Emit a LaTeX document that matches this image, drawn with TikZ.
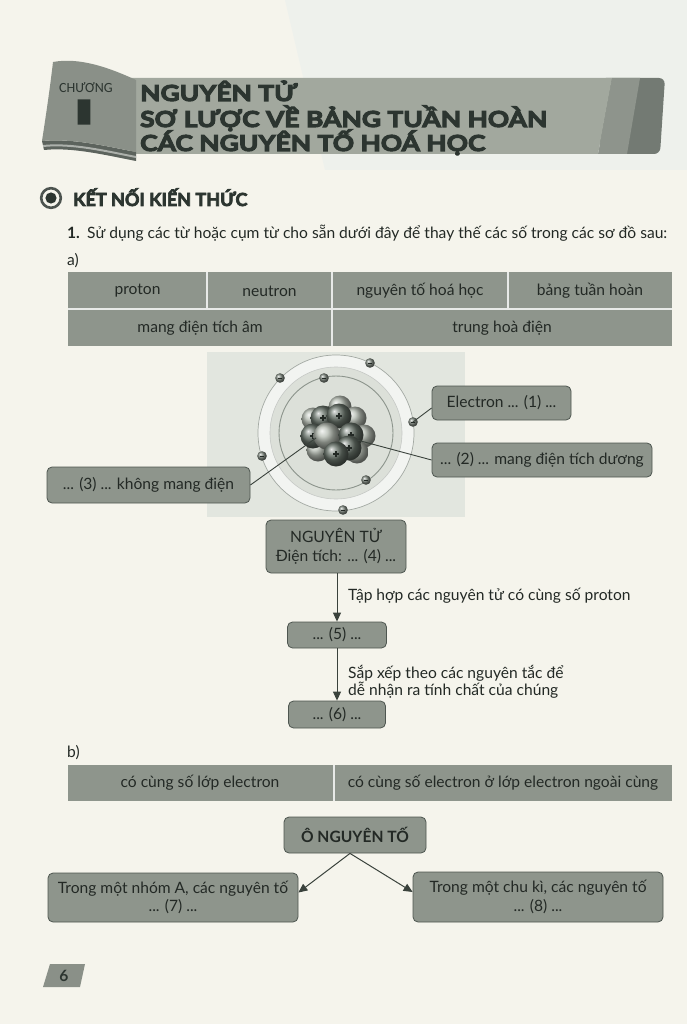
\documentclass[tikz,border=0pt]{standalone}
\usepackage{fontspec}
\usepackage{graphicx}
\setmainfont{Lato}
\newfontfamily\heavyfont{Lato}[FakeBold=5, FakeStretch=1.2]
\newfontfamily\heavyfontn{Lato}[FakeBold=4]
\newfontfamily\condfont{Carlito}
\usetikzlibrary{arrows.meta}
\definecolor{pagebg}{HTML}{F5F4EC}
\definecolor{tint}{HTML}{EEF1EC}
\definecolor{cellgray}{HTML}{8E958C}
\definecolor{boxline}{HTML}{4E5650}
\definecolor{txt}{HTML}{232925}
\definecolor{bannerlight}{HTML}{A2A89E}
\definecolor{bannermid}{HTML}{8E948C}
\definecolor{bannerdark}{HTML}{737A73}
\definecolor{tabgray}{HTML}{8A9088}
\definecolor{tabdark}{HTML}{5C635D}
\definecolor{titletxt}{HTML}{2C3530}
\definecolor{atombg}{HTML}{E2E6DF}
\definecolor{ringin}{HTML}{DCE0D9}
\definecolor{ringline}{HTML}{8C948C}
\definecolor{linecol}{HTML}{3A423C}
\definecolor{elgray}{HTML}{7E877E}
\definecolor{protgray}{HTML}{657067}
\definecolor{neutgray}{HTML}{B3BAB0}
\newcommand\bodyfs{\fontsize{15.6}{18.5}\selectfont}
\begin{document}
\begin{tikzpicture}[x=1pt,y=-1pt,
  every node/.style={text=txt},
  cbox/.style={draw=boxline, line width=0.8pt, fill=cellgray, rounded corners=5pt,
    inner sep=0pt, align=center, font=\bodyfs},
  celltext/.style={font=\bodyfs, inner sep=0pt},
  bodytext/.style={font=\bodyfs, inner sep=0pt, anchor=base west},
  flowarrow/.style={draw=linecol, line width=1pt, -{Triangle[length=9pt,width=8pt]}},
  callline/.style={draw=linecol, line width=0.9pt},
  titleline/.style={font=\heavyfont\bfseries\fontsize{22}{22}\selectfont, text=titletxt, inner sep=0pt, anchor=base west},
  elecball/.pic={\shade[ball color=elgray] (0,0) circle (4.8pt);
    \draw[line width=0.9pt, txt] (-2.2pt,0) -- (2.2pt,0);},
  protball/.pic={\shade[ball color=protgray] (0,0) circle (12.5pt);
    \draw[line width=1.1pt, txt] (-2.6pt,0) -- (2.6pt,0) (0,-2.6pt) -- (0,2.6pt);},
  neutball/.pic={\shade[ball color=neutgray] (0,0) circle (11.5pt);}
]
\useasboundingbox (0,0) rectangle (687,1024);
\fill[pagebg] (0,0) rectangle (687,1024);
\fill[tint] (285,0) -- (687,0) -- (687,170) -- (325,170) -- cycle;

% ---------- banner ----------
\fill[bannerdark, rounded corners=6pt] (600,78) -- (665,78) -- (660,154) -- (600,154) -- cycle;
\fill[bannermid] (612,78) -- (640,78) -- (627,154) -- (598,154) -- cycle;
\fill[bannerlight] (130,78) -- (612,78) -- (598,154) -- (130,154) -- cycle;
% page curl tab
\fill[tabdark] (42,141) .. controls (72,138) and (105,146) .. (136,152) -- (136,161)
   .. controls (105,155) and (72,147) .. (44,150) -- cycle;
\fill[tabgray!70!white] (43,145) .. controls (72,142) and (105,150) .. (136,156) -- (136,158)
   .. controls (105,152) and (72,144) .. (43,147) -- cycle;
\fill[tabgray] (53,62) .. controls (80,57) and (110,68) .. (136,80) -- (136,152)
   .. controls (105,146) and (72,138) .. (42,141) .. controls (46,115) and (50,88) .. (53,62) -- cycle;
\node[font=\condfont\fontsize{14}{14}\selectfont, text=titletxt, inner sep=0pt, anchor=base] (chuong) at (86,93) {CHƯƠNG};
\node[font=\heavyfontn\bfseries\fontsize{33}{33}\selectfont, text=titletxt, inner sep=0pt, anchor=base] (chI) at (84,124) {\scalebox{2.2}[1]{I}};
\node[titleline] (tl1) at (140,101) {NGUYÊN TỬ};
\node[titleline] (tl2) at (140,127) {SƠ LƯỢC VỀ BẢNG TUẦN HOÀN};
\node[titleline] (tl3) at (140,151) {CÁC NGUYÊN TỐ HOÁ HỌC};

% ---------- section heading ----------
\coordinate (ic) at (51,198);
\draw[titletxt!85!white, line width=2.6pt] (ic) circle (9.8pt);
\fill[titletxt] (ic) circle (5.6pt);
\node[font=\heavyfontn\bfseries\fontsize{18}{18}\selectfont, text=titletxt, inner sep=0pt, anchor=base west] (sec) at (73,206) {KẾT NỐI KIẾN THỨC};
\node[bodytext, font=\bodyfs\bfseries] (q1n) at (67,238) {1.};
\node[bodytext] (q1) at (87,238) {Sử dụng các từ hoặc cụm từ cho sẵn dưới đây để thay thế các số trong các sơ đồ sau:};
\node[bodytext] (qa) at (67,265) {a)};

% ---------- table a ----------
\fill[cellgray] (68,272) rectangle (672,346);
\draw[white!80!cellgray, line width=1.1pt] (68,309) -- (672,309) (207,272) -- (207,309)
   (332,272) -- (332,346) (508,272) -- (508,309);
\node[celltext] (ta1) at (137.5,291) {proton};
\node[celltext] (ta2) at (269.5,291) {neutron};
\node[celltext] (ta3) at (420,291) {nguyên tố hoá học};
\node[celltext] (ta4) at (590,291) {bảng tuần hoàn};
\node[celltext] (ta5) at (200,328) {mang điện tích âm};
\node[celltext] (ta6) at (502,328) {trung hoà điện};

% ---------- atom ----------
\fill[atombg] (207,352) rectangle (465,517);
\coordinate (ac) at (336,433);
\fill[white!55!atombg] (ac) circle (78pt);
\fill[ringin] (ac) circle (66pt);
\draw[ringline!80!white, line width=0.7pt] (ac) circle (78pt);
\draw[ringline!50!white, line width=0.6pt] (ac) circle (66pt);
\draw[ringline, line width=0.9pt] (ac) circle (57pt);
% nucleus
\pic at (340,407) {neutball};
\pic at (355,418) {neutball};
\pic at (313,419) {neutball};
\pic at (364,436) {neutball};
\pic at (357,452) {neutball};
\pic at (318,450) {neutball};
\pic at (323,418) {protball};
\pic at (339,416) {protball};
\pic at (313,436) {protball};
\shade[ball color=neutgray] (327,436) circle (13.5pt);
\pic at (351,435) {protball};
\pic at (349,448) {protball};
\pic at (336,454) {protball};
% electrons
\coordinate (el1) at (370,363);
\coordinate (el2) at (280,378);
\coordinate (el3) at (324,378);
\coordinate (el4) at (413,422);
\coordinate (el5) at (262,456);
\coordinate (el6) at (366,480);
\coordinate (el7) at (343,510);
\foreach \e in {el1,el2,el3,el4,el5,el6,el7} {\pic at (\e) {elecball};}
\coordinate (nucR) at (357,440);
\coordinate (nucL) at (316,438);

% callouts
\node[cbox, minimum width=139pt, minimum height=34pt] (e1) at (501.5,403) {Electron ... (1) ...};
\node[cbox, minimum width=220pt, minimum height=34pt] (e2) at (542,460) {... (2) ... mang điện tích dương};
\node[cbox, minimum width=203pt, minimum height=36pt] (e3) at (148.5,485) {... (3) ... không mang điện};
\draw[callline] ([yshift=-5pt]e1.west) -- (el4);
\draw[callline] (e2.west) -- (nucR);
\draw[callline] (e3.east) -- (nucL);

% ---------- flow a ----------
\node[cbox, minimum width=140pt, minimum height=53pt, font=\bodyfs] (na) at (336,546.5) {NGUYÊN TỬ\\[1pt]Điện tích: ... (4) ...};
\node[cbox, minimum width=99pt, minimum height=26pt] (n5) at (337,635) {... (5) ...};
\node[cbox, minimum width=97pt, minimum height=27pt] (n6) at (337,714.5) {... (6) ...};
\draw[flowarrow] (na.south -| n5.north) -- (n5.north);
\draw[flowarrow] (n5.south) -- (n6.north);
\node[bodytext] (lab1) at (348,600) {Tập hợp các nguyên tử có cùng số proton};
\node[bodytext] (lab2) at (348,678) {Sắp xếp theo các nguyên tắc để};
\node[bodytext] (lab3) at (348,695) {dễ nhận ra tính chất của chúng};

% ---------- part b ----------
\node[bodytext] (qb) at (67,757) {b)};
\fill[cellgray] (68,765) rectangle (672,801);
\draw[white!80!cellgray, line width=1.1pt] (334,765) -- (334,801);
\node[celltext] (tb1) at (200,783) {có cùng số lớp electron};
\node[celltext] (tb2) at (503,783) {có cùng số electron ở lớp electron ngoài cùng};
\node[cbox, minimum width=142pt, minimum height=36pt, font=\bodyfs\bfseries] (on) at (355,835) {Ô NGUYÊN TỐ};
\node[cbox, minimum width=250pt, minimum height=49pt] (lb) at (173,897.5) {Trong một nhóm A, các nguyên tố\\... (7) ...};
\node[cbox, minimum width=250pt, minimum height=50pt] (rb) at (538,897) {Trong một chu kì, các nguyên tố\\... (8) ...};
\draw[flowarrow] ([xshift=-5pt]on.south) -- ([yshift=5pt]lb.east);
\draw[flowarrow] ([xshift=-5pt]on.south) -- ([yshift=5pt]rb.west);

% ---------- page number ----------
\fill[tabgray] (43,987) -- (50,964) -- (85,964) -- (80,987) -- cycle;
\node[font=\bodyfs\bfseries, text=titletxt, inner sep=0pt] (pg) at (64,976) {6};
\end{tikzpicture}
\end{document}
